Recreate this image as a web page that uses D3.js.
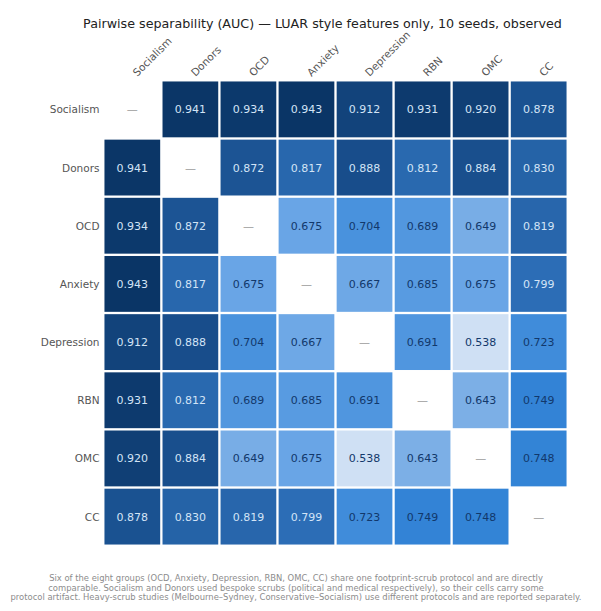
<!DOCTYPE html>
<html>
<head>
<meta charset="utf-8">
<script src="https://cdnjs.cloudflare.com/ajax/libs/d3/7.8.5/d3.min.js"></script>
<style>
  html, body { margin: 0; padding: 0; background: #fff; }
  svg { display: block; }
  text { font-family: "DejaVu Sans", sans-serif; }
</style>
</head>
<body>
<svg id="chart" width="601" height="611"></svg>
<script>
const groups = ["Socialism", "Donors", "OCD", "Anxiety", "Depression", "RBN", "OMC", "CC"]

// upper and lower triangle are the same, null on the diagonal
const auc = [
  [null, 0.941, 0.934, 0.943, 0.912, 0.931, 0.920, 0.878],
  [0.941, null, 0.872, 0.817, 0.888, 0.812, 0.884, 0.830],
  [0.934, 0.872, null, 0.675, 0.704, 0.689, 0.649, 0.819],
  [0.943, 0.817, 0.675, null, 0.667, 0.685, 0.675, 0.799],
  [0.912, 0.888, 0.704, 0.667, null, 0.691, 0.538, 0.723],
  [0.931, 0.812, 0.689, 0.685, 0.691, null, 0.643, 0.749],
  [0.920, 0.884, 0.649, 0.675, 0.538, 0.643, null, 0.748],
  [0.878, 0.830, 0.819, 0.799, 0.723, 0.749, 0.748, null]
]

const title = "Pairwise separability (AUC) \u2014 LUAR style features only, 10 seeds, observed"
const footnote = [
  "Six of the eight groups (OCD, Anxiety, Depression, RBN, OMC, CC) share one footprint-scrub protocol and are directly",
  "comparable. Socialism and Donors used bespoke scrubs (political and medical respectively), so their cells carry some",
  "protocol artifact. Heavy-scrub studies (Melbourne\u2013Sydney, Conservative\u2013Socialism) use different protocols and are reported separately."
]

const svg = d3.select("#chart")

const x = d3.scaleBand().domain(groups).range([103.3, 567.7]).paddingInner(0.04).paddingOuter(0.02)
const y = d3.scaleBand().domain(groups).range([80.3, 545.7]).paddingInner(0.04).paddingOuter(0.02)

const color = d3.scaleLinear()
  .domain([0.5, 0.538, 0.643, 0.675, 0.69, 0.75, 0.8, 0.88, 0.943])
  .range(["#e3eefa", "#cfe0f4", "#7cafe6", "#69a5e6", "#5096df", "#3283d6", "#2c6db5", "#1a5190", "#0a3566"])

const cells = auc.flatMap((row, i) => row.map((v, j) => ({row: groups[i], col: groups[j], v})))

// cells, the diagonal stays blank
svg.append("g").selectAll("rect")
  .data(cells.filter(d => d.v != null))
  .join("rect")
  .attr("x", d => x(d.col))
  .attr("y", d => y(d.row))
  .attr("width", x.bandwidth())
  .attr("height", y.bandwidth())
  .attr("fill", d => color(d.v))

svg.append("g").selectAll("text")
  .data(cells)
  .join("text")
  .attr("x", d => x(d.col) + x.bandwidth() / 2)
  .attr("y", d => y(d.row) + y.bandwidth() / 2 + 1)
  .attr("text-anchor", "middle")
  .attr("dominant-baseline", "middle")
  .attr("font-size", 11)
  .attr("fill", d => d.v == null ? "#999" : d.v > 0.76 ? "#d3e4f6" : "#12386b")
  .text(d => d.v == null ? "\u2014" : d.v.toFixed(3))

// row labels
svg.append("g").selectAll("text")
  .data(groups)
  .join("text")
  .attr("x", 99.5)
  .attr("y", d => y(d) + y.bandwidth() / 2 + 1)
  .attr("text-anchor", "end")
  .attr("dominant-baseline", "middle")
  .attr("font-size", 10.5)
  .attr("fill", "#555")
  .text(d => d)

// column labels, rotated
svg.append("g").selectAll("text")
  .data(groups)
  .join("text")
  .attr("transform", d => `translate(${x(d) + x.bandwidth() / 2 + 5},77) rotate(-45)`)
  .attr("text-anchor", "start")
  .attr("font-size", 10.5)
  .attr("fill", "#555")
  .text(d => d)

svg.append("text")
  .attr("x", 322.5)
  .attr("y", 28)
  .attr("text-anchor", "middle")
  .attr("font-size", 12.7)
  .attr("fill", "#222")
  .text(title)

svg.append("g").selectAll("text")
  .data(footnote)
  .join("text")
  .attr("x", 296)
  .attr("y", (d, i) => 581 + i * 9.7)
  .attr("text-anchor", "middle")
  .attr("font-size", 8.42)
  .attr("fill", "#8c8c8c")
  .text(d => d)
</script>
</body>
</html>
